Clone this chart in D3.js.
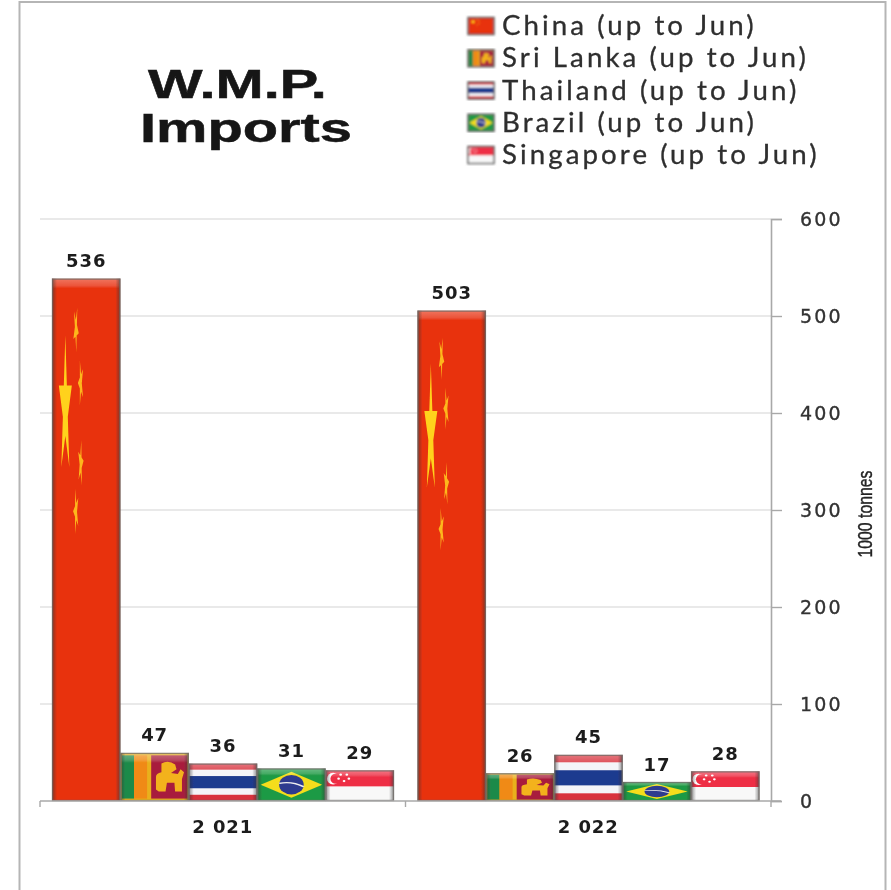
<!DOCTYPE html>
<html>
<head>
<meta charset="utf-8">
<script src="https://cdn.jsdelivr.net/npm/d3@7"></script>
<style>
html,body{margin:0;padding:0;background:#fff;overflow:hidden}
svg{display:block}
</style>
</head>
<body>
<svg id="chart" width="891" height="890"></svg>
<script>
const years = ["2 021", "2 022"];
const countries = ["China", "Sri Lanka", "Thailand", "Brazil", "Singapore"];
const legendLabels = ["China (up to Jun)", "Sri Lanka (up to Jun)", "Thailand (up to Jun)", "Brazil (up to Jun)", "Singapore (up to Jun)"];
const values2021 = [536, 47, 36, 31, 29];
const values2022 = [503, 26, 45, 17, 28];
const yTicks = [0, 100, 200, 300, 400, 500, 600];
const titleLines = ["W.M.P.", "Imports"];
const axisTitle = "1000 tonnes";
const valuesByYear = [values2021, values2022];

const W = 891, H = 890;
const svg = d3.select("#chart");
const defs = svg.append("defs");

const blur = defs.append("filter").attr("id","soft").attr("x","-2%").attr("y","-2%").attr("width","104%").attr("height","104%");
blur.append("feGaussianBlur").attr("stdDeviation",0.55);
const swatchBlur = defs.append("filter").attr("id","softSwatch");
swatchBlur.append("feGaussianBlur").attr("stdDeviation",1);

function grad(id, x2, y2, stops){
  const g = defs.append("linearGradient").attr("id",id).attr("x1",0).attr("y1",0).attr("x2",x2).attr("y2",y2);
  stops.forEach(s => g.append("stop").attr("offset",s[0]).attr("stop-color",s[1]).attr("stop-opacity",s[2]));
}
grad("sheenTop",0,1,[[0,"#fff",0.34],[0.7,"#fff",0.18],[1,"#fff",0]]);
grad("edgeL",1,0,[[0,"#333",0.55],[1,"#333",0]]);
grad("edgeR",1,0,[[0,"#333",0],[1,"#333",0.55]]);

function starPoints(cx, cy, rx, ry, rot){
  const out = [];
  for(let i=0;i<10;i++){
    const r = i%2 ? 0.382 : 1;
    const a = rot + i*Math.PI/5 - Math.PI/2;
    out.push([cx + rx*r*Math.cos(a), cy + ry*r*Math.sin(a)].join(","));
  }
  return out.join(" ");
}

const flagPainters = {
  "China": g => {
    g.append("rect").attr("width",100).attr("height",100).attr("fill","#e8300f");
    g.append("polygon").attr("points",starPoints(19.5,24.8,10,14,0)).attr("fill","#ffd21a");
    [[35,9.6,0.5],[42,20,0.95],[42,35.4,0.2],[35,44.6,-0.3]].forEach(s =>
      g.append("polygon").attr("points",starPoints(s[0],s[1],4.2,4.6,s[2])).attr("fill","#fdb71c"));
  },
  "Sri Lanka": g => {
    g.append("rect").attr("width",100).attr("height",100).attr("fill","#e9b01c");
    g.append("rect").attr("x",2).attr("y",5).attr("width",18).attr("height",90).attr("fill","#1f8a4a");
    g.append("rect").attr("x",20).attr("y",5).attr("width",19).attr("height",90).attr("fill","#f08a12");
    g.append("rect").attr("x",45).attr("y",5).attr("width",53).attr("height",90).attr("fill","#a81f3c");
    g.append("path").attr("fill","#f3b21f")
      .attr("d","M52 76 L52 50 Q52 42 60 40 L60 22 Q70 14 80 24 L82 34 L74 42 L84 44 L88 34 L93 40 L90 54 L90 80 L80 80 L79 62 L68 62 L66 80 L56 80 Z");
  },
  "Thailand": g => {
    [[0,"#d8303c",1/6],[1/6,"#f4f4f8",1/6],[2/6,"#1f3a8f",2/6],[4/6,"#f4f4f8",1/6],[5/6,"#d8303c",1/6]].forEach(b =>
      g.append("rect").attr("y",b[0]*100).attr("width",100).attr("height",b[2]*100).attr("fill",b[1]));
  },
  "Brazil": g => {
    g.append("rect").attr("width",100).attr("height",100).attr("fill","#1f9a45");
    g.append("polygon").attr("points","5,50 50,10 95,50 50,90").attr("fill","#f4dd1a");
    g.append("ellipse").attr("cx",50).attr("cy",50).attr("rx",18).attr("ry",30).attr("fill","#2f3a8f");
    g.append("path").attr("d","M32 46 Q50 38 68 56").attr("fill","none").attr("stroke","#eee").attr("stroke-width",4);
  },
  "Singapore": g => {
    g.append("rect").attr("width",100).attr("height",53).attr("fill","#ee2f45");
    g.append("rect").attr("y",53).attr("width",100).attr("height",47).attr("fill","#f8f8f8");
    g.append("ellipse").attr("cx",11).attr("cy",27).attr("rx",9).attr("ry",19).attr("fill","#fff");
    g.append("ellipse").attr("cx",15).attr("cy",27).attr("rx",8).attr("ry",17).attr("fill","#ee2f45");
    [[22,14],[31,14],[19,27],[27,35],[34,27]].forEach(p =>
      g.append("ellipse").attr("cx",p[0]).attr("cy",p[1]).attr("rx",2).attr("ry",3.5).attr("fill","#fff"));
  }
};
countries.forEach(c => {
  const sym = defs.append("symbol").attr("id","flag-"+c.replace(" ","")).attr("viewBox","0 0 100 100").attr("preserveAspectRatio","none");
  flagPainters[c](sym);
});

const root = svg.append("g").attr("filter","url(#soft)");
root.append("rect").attr("x",-5).attr("y",-5).attr("width",W+10).attr("height",H+10).attr("fill","#fff");
root.append("rect").attr("x",19.5).attr("y",2).attr("width",866).attr("height",H+20).attr("fill","none").attr("stroke","#b5b5b5").attr("stroke-width",2);

const plot = {left:40, right:771, top:219, bottom:801};
const bevelTop = 2.5;
const y = d3.scaleLinear().domain([0,600]).range([plot.bottom,plot.top]);
const x0 = d3.scaleBand().domain(years).range([plot.left,plot.right]);
const x1 = d3.scaleBand().domain(countries).range([12,12+342]);

root.append("g").selectAll("line").data(yTicks.filter(d=>d>0)).join("line")
  .attr("x1",plot.left).attr("x2",plot.right).attr("y1",d=>y(d)).attr("y2",d=>y(d))
  .attr("stroke","#e2e2e2").attr("stroke-width",1.4);

const groups = root.append("g").selectAll("g").data(years).join("g")
  .attr("transform",d=>`translate(${x0(d)},0)`);
groups.each(function(year,yi){
  const g = d3.select(this);
  countries.forEach((c,ci) => {
    const v = valuesByYear[yi][ci];
    const bx = x1(c), bw = x1.bandwidth(), by = y(v)-bevelTop, bh = y(0)-by;
    g.append("use").attr("href","#flag-"+c.replace(" ",""))
      .attr("x",bx).attr("y",by).attr("width",bw).attr("height",bh);
    const sheen = Math.min(10, bh*0.22);
    g.append("rect").attr("x",bx).attr("y",by).attr("width",bw).attr("height",sheen).attr("fill","url(#sheenTop)");
    g.append("rect").attr("x",bx).attr("y",by).attr("width",5).attr("height",bh).attr("fill","url(#edgeL)");
    g.append("rect").attr("x",bx+bw-5).attr("y",by).attr("width",5).attr("height",bh).attr("fill","url(#edgeR)");
    g.append("rect").attr("x",bx+0.5).attr("y",by+0.5).attr("width",bw-1).attr("height",bh-1)
      .attr("fill","none").attr("stroke","#6f6a66").attr("stroke-opacity",0.75).attr("stroke-width",1.4);
    g.append("text").attr("x",bx+bw/2).attr("y",y(v)-14).attr("text-anchor","middle")
      .attr("font-family","DejaVu Sans").attr("font-size",18).attr("font-weight","bold").attr("letter-spacing",0.9).attr("fill","#1c1c1c").text(v);
  });
});

const yAxis = root.append("g").attr("transform",`translate(${plot.right},0)`)
  .call(d3.axisRight(y).tickValues(yTicks).tickSize(11).tickPadding(18).tickFormat(d3.format("d")));
yAxis.select(".domain").attr("stroke","#a8a8a8").attr("stroke-width",1.6);
yAxis.selectAll("line").attr("stroke","#a8a8a8").attr("stroke-width",1.4);
yAxis.selectAll("text").attr("font-size",19).attr("letter-spacing",2.2).attr("fill","#333")
  .attr("font-family","DejaVu Sans").attr("stroke","#333").attr("stroke-width",0.35);

const xAxis = root.append("g").attr("transform",`translate(0,${plot.bottom})`)
  .call(d3.axisBottom(x0).tickSize(0).tickPadding(19));
xAxis.select(".domain").attr("stroke","#a8a8a8").attr("stroke-width",1.6).attr("d",`M${plot.left},0H${plot.right+10}`);
xAxis.selectAll("text").attr("font-size",18).attr("font-weight","bold").attr("letter-spacing",0.9)
  .attr("font-family","DejaVu Sans").attr("fill","#1c1c1c");
root.append("g").selectAll("line").data([plot.left, x0(years[1]), plot.right]).join("line")
  .attr("x1",d=>d).attr("x2",d=>d).attr("y1",plot.bottom).attr("y2",plot.bottom+6)
  .attr("stroke","#a8a8a8").attr("stroke-width",1.4);

root.append("text").attr("transform","translate(872,514) rotate(-90) scale(0.79,1)")
  .attr("text-anchor","middle").attr("font-size",20).attr("font-family","Liberation Sans")
  .attr("stroke","#222").attr("stroke-width",0.4).attr("fill","#222").text(axisTitle);

root.append("g").selectAll("text").data(titleLines).join("text")
  .attr("transform",(d,i)=>`translate(${i?246:237.5},${i?142:98}) scale(1.41,1)`).attr("text-anchor","middle")
  .attr("font-family","Liberation Sans").attr("font-weight","bold").attr("font-size",41)
  .attr("stroke","#141414").attr("stroke-width",0.5)
  .attr("fill","#141414").text(d=>d);

const legY = d3.scalePoint().domain(countries).range([26,155]);
const leg = root.append("g").selectAll("g").data(countries).join("g")
  .attr("transform",d=>`translate(468,${legY(d)})`);
const sw = leg.append("g").attr("filter","url(#softSwatch)");
sw.append("use").attr("href",d=>"#flag-"+d.replace(" ","")).attr("x",0).attr("y",-8.5).attr("width",26).attr("height",17);
sw.append("rect").attr("x",0).attr("y",-8.5).attr("width",26).attr("height",17).attr("fill","none")
  .attr("stroke","#666").attr("stroke-width",1.6);
leg.append("text").attr("transform","translate(34,9) scale(1.064,1)").attr("font-family","Lato").attr("font-size",26)
  .attr("letter-spacing",2.9).attr("stroke","#2e2e2e").attr("stroke-width",0.3).attr("fill","#2e2e2e").text((d,i)=>legendLabels[i]);
</script>
</body>
</html>
